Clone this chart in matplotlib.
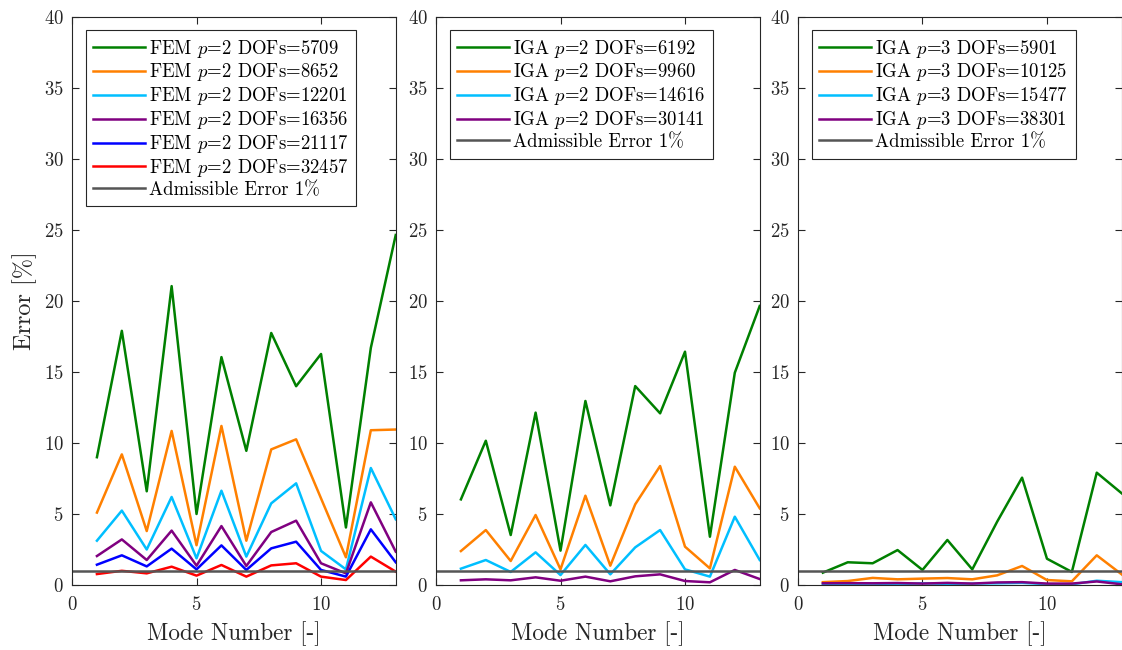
import matplotlib
matplotlib.use("Agg")
import matplotlib.pyplot as plt
import numpy as np

plt.rcParams["font.family"] = "cmr10"
plt.rcParams["mathtext.fontset"] = "cm"
plt.rcParams["axes.formatter.use_mathtext"] = True
plt.rcParams["axes.unicode_minus"] = False

modes = np.arange(1, 14)

# FEM p=2
fem_dofs = [5709, 8652, 12201, 16356, 21117, 32457]
fem_err = [
    [9.0, 17.9, 6.6, 21.05, 5.0, 16.05, 9.45, 17.75, 14.0, 16.27, 4.05, 16.7, 24.65],
    [5.1, 9.2, 3.8, 10.85, 2.8, 11.2, 3.12, 9.55, 10.26, 6.1, 1.95, 10.9, 10.95],
    [3.12, 5.24, 2.5, 6.2, 1.88, 6.64, 2.0, 5.75, 7.16, 2.4, 1.1, 8.24, 4.63],
    [2.04, 3.21, 1.76, 3.83, 1.36, 4.15, 1.34, 3.73, 4.53, 1.53, 0.82, 5.82, 2.35],
    [1.43, 2.09, 1.31, 2.56, 1.1, 2.79, 1.06, 2.58, 3.05, 1.06, 0.59, 3.92, 1.6],
    [0.77, 1.0, 0.82, 1.29, 0.66, 1.41, 0.59, 1.38, 1.53, 0.59, 0.35, 2.0, 0.94],
]

# IGA p=2
iga2_dofs = [6192, 9960, 14616, 30141]
iga2_err = [
    [6.03, 10.16, 3.52, 12.14, 2.42, 12.96, 5.61, 14.01, 12.09, 16.43, 3.4, 14.95, 19.65],
    [2.39, 3.87, 1.69, 4.93, 1.1, 6.29, 1.36, 5.68, 8.38, 2.7, 1.17, 8.33, 5.4],
    [1.15, 1.76, 0.92, 2.3, 0.7, 2.82, 0.75, 2.65, 3.87, 1.1, 0.59, 4.81, 1.76],
    [0.33, 0.4, 0.33, 0.54, 0.3, 0.59, 0.26, 0.61, 0.75, 0.28, 0.19, 1.06, 0.42],
]

# IGA p=3
iga3_dofs = [5901, 10125, 15477, 38301]
iga3_err = [
    [0.87, 1.6, 1.53, 2.46, 1.06, 3.17, 1.1, 4.46, 7.56, 1.85, 0.92, 7.91, 6.46],
    [0.2, 0.28, 0.5, 0.4, 0.45, 0.49, 0.4, 0.68, 1.34, 0.35, 0.26, 2.09, 0.75],
    [0.05, 0.08, 0.1, 0.06, 0.12, 0.08, 0.1, 0.12, 0.15, 0.06, 0.05, 0.3, 0.2],
    [0.12, 0.13, 0.12, 0.14, 0.1, 0.15, 0.1, 0.18, 0.2, 0.1, 0.1, 0.25, 0.05],
]

admissible = 1.0

colors = ["#008000", "#FF8000", "#00BFFF", "#800080", "#0000FF", "#FF0000"]
gray = "#555555"

fig = plt.figure(figsize=(11.22, 6.5), dpi=100)
panels = [
    (0.0642, "FEM", 2, fem_dofs, fem_err),
    (0.3886, "IGA", 2, iga2_dofs, iga2_err),
    (0.7112, "IGA", 3, iga3_dofs, iga3_err),
]

for i, (left, method, p, dofs, errs) in enumerate(panels):
    ax = fig.add_axes([left, 0.1, 0.2885, 0.8738])
    for j, (d, e) in enumerate(zip(dofs, errs)):
        ax.plot(modes, e, color=colors[j], lw=1.8,
                label=f"{method} $p$={p} DOFs={d}")
    ax.plot([0, 13], [admissible, admissible], color=gray, lw=1.8,
            label="Admissible Error 1%")
    ax.set_xlim(0, 13)
    ax.set_ylim(0, 40)
    ax.set_xticks([0, 5, 10])
    ax.set_yticks(np.arange(0, 41, 5))
    ax.tick_params(axis="both", direction="in", top=True, right=True, length=5,
                   width=0.8, colors="#262626", labelsize=13.5)
    ax.tick_params(axis="x", pad=8)
    ax.tick_params(axis="y", pad=6)
    for s in ax.spines.values():
        s.set_color("#262626")
        s.set_linewidth(0.8)
    ax.set_xlabel("Mode Number [-]", fontsize=16.7, color="#262626", labelpad=5)
    if i == 0:
        ax.set_ylabel("Error [%]", fontsize=17.5, color="#262626", labelpad=5)
    leg = ax.legend(loc="upper left", bbox_to_anchor=(0.042, 0.977),
                    borderaxespad=0, fontsize=13.5, handlelength=2.75,
                    handletextpad=0.25, labelspacing=0.1, borderpad=0.4,
                    fancybox=False, framealpha=1, edgecolor="#262626")
    leg.get_frame().set_linewidth(0.8)

fig.savefig("out.png", dpi=100)
